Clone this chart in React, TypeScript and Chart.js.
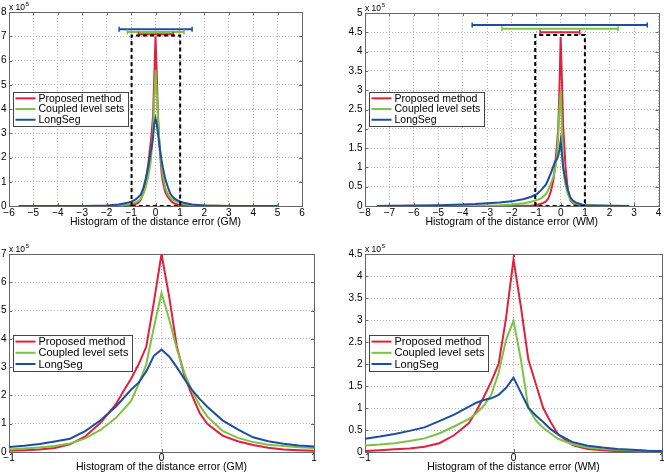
import React, { useEffect, useRef } from "react";
import { Chart, registerables } from "chart.js";

Chart.register(...registerables);

const FONT = "'Liberation Sans', Arial, Helvetica, sans-serif";
const RED = "#e0203c";
const GREEN = "#7dc242";
const BLUE = "#1d4f9c";
const FRAME = "#666666";
const GRID = "#b4b4b4";

const SERIES_NAMES = ["Proposed method", "Coupled level sets", "LongSeg"];
const SERIES_COLORS = [RED, GREEN, BLUE];

// ---------- GM (grey matter) histogram, values in units of 10^5 ----------
const GM_X = [-5.6, -5, -4, -3, -2.5, -2, -1.5, -1.2, -1, -0.9, -0.8, -0.7, -0.6, -0.5, -0.4, -0.3, -0.25, -0.2, -0.15, -0.1, -0.05, 0, 0.05, 0.1, 0.15, 0.2, 0.25, 0.3, 0.4, 0.5, 0.6, 0.7, 0.8, 0.9, 1, 1.2, 1.5, 2, 2.5, 3, 4, 5];
const GM_PROPOSED = [0, 0, 0, 0, 0, 0.005, 0.01, 0.02, 0.04, 0.06, 0.09, 0.14, 0.27, 0.55, 1.03, 1.68, 2.15, 2.58, 3.1, 3.72, 5.3, 7.0, 5.5, 3.75, 2.7, 2.0, 1.38, 1.0, 0.58, 0.38, 0.25, 0.15, 0.09, 0.06, 0.04, 0.02, 0.01, 0.005, 0, 0, 0, 0];
const GM_COUPLED = [0, 0, 0, 0, 0.005, 0.01, 0.03, 0.06, 0.09, 0.12, 0.16, 0.21, 0.3, 0.48, 0.78, 1.2, 1.5, 1.8, 2.4, 3.1, 4.4, 5.62, 4.7, 3.65, 2.8, 2.15, 1.65, 1.25, 0.75, 0.5, 0.35, 0.26, 0.21, 0.17, 0.14, 0.08, 0.04, 0.02, 0.01, 0.005, 0, 0];
const GM_LONGSEG = [0, 0, 0, 0.005, 0.01, 0.02, 0.06, 0.12, 0.18, 0.22, 0.28, 0.37, 0.47, 0.74, 1.12, 1.6, 1.9, 2.2, 2.45, 2.85, 3.4, 3.62, 3.38, 3.0, 2.58, 2.2, 1.88, 1.6, 1.12, 0.8, 0.52, 0.38, 0.29, 0.23, 0.19, 0.12, 0.06, 0.02, 0.01, 0.005, 0, 0];
// error bars: [level, from, to]
const GM_BAR_PROPOSED = [7.08, -0.7, 0.73];
const GM_BAR_COUPLED = [7.18, -1.15, 1.17];
const GM_BAR_LONGSEG = [7.29, -1.49, 1.5];
const GM_BOX = [-0.98, 1.01, 7.03];

// ---------- WM (white matter) histogram, values in units of 10^5 ----------
const WM_X = [-7.5, -7, -6, -5, -4, -3.5, -3, -2.5, -2, -1.5, -1.2, -1, -0.9, -0.8, -0.7, -0.6, -0.5, -0.4, -0.3, -0.25, -0.2, -0.15, -0.1, -0.05, 0, 0.05, 0.1, 0.15, 0.2, 0.25, 0.3, 0.4, 0.5, 0.6, 0.7, 0.8, 0.9, 1, 1.5, 2, 2.8];
const WM_PROPOSED = [0, 0, 0, 0, 0, 0, 0, 0.003, 0.005, 0.008, 0.012, 0.02, 0.04, 0.06, 0.08, 0.12, 0.2, 0.38, 0.66, 0.93, 1.25, 1.6, 2.0, 3.05, 4.38, 3.3, 2.1, 1.55, 1.0, 0.68, 0.4, 0.15, 0.07, 0.04, 0.02, 0.015, 0.01, 0.005, 0, 0, 0];
const WM_COUPLED = [0, 0, 0, 0, 0.003, 0.006, 0.01, 0.02, 0.04, 0.07, 0.11, 0.15, 0.17, 0.2, 0.25, 0.31, 0.42, 0.58, 0.75, 0.88, 1.05, 1.3, 1.8, 2.55, 2.98, 2.1, 1.0, 0.72, 0.55, 0.42, 0.3, 0.17, 0.1, 0.07, 0.05, 0.04, 0.03, 0.025, 0.01, 0.005, 0];
const WM_LONGSEG = [0, 0.005, 0.01, 0.02, 0.04, 0.05, 0.07, 0.09, 0.12, 0.18, 0.24, 0.3, 0.35, 0.41, 0.48, 0.56, 0.7, 0.85, 1.03, 1.12, 1.18, 1.22, 1.3, 1.46, 1.69, 1.35, 1.01, 0.83, 0.68, 0.52, 0.4, 0.22, 0.14, 0.1, 0.07, 0.05, 0.03, 0.02, 0.01, 0.005, 0];
const WM_BAR_PROPOSED = [4.5, -0.84, 0.78];
const WM_BAR_COUPLED = [4.59, -2.4, 2.35];
const WM_BAR_LONGSEG = [4.69, -3.62, 3.54];
const WM_BOX = [-1.04, 0.99, 4.43];

// ---------- tick labels ----------
const GM_X_TICKS = [-6, -5, -4, -3, -2, -1, 0, 1, 2, 3, 4, 5, 6];
const GM_Y_TICKS = [0, 1, 2, 3, 4, 5, 6, 7, 8];
const WM_X_TICKS = [-8, -7, -6, -5, -4, -3, -2, -1, 0, 1, 2, 3, 4];
const WM_Y_TICKS = [0, 0.5, 1, 1.5, 2, 2.5, 3, 3.5, 4, 4.5, 5];
const ZOOM_X_TICKS = [-1, 0, 1];
const GM_ZOOM_Y_TICKS = [0, 1, 2, 3, 4, 5, 6, 7];
const WM_ZOOM_Y_TICKS = [0, 0.5, 1, 1.5, 2, 2.5, 3, 3.5, 4, 4.5];

const GM_TITLE = "Histogram of the distance error (GM)";
const WM_TITLE = "Histogram of the distance error (WM)";

type Panel = {
  left: number;
  top: number;
  w: number;
  h: number;
  area: { l: number; t: number; r: number; b: number };
  xs: number[];
  ys: number[][];
  xMin: number;
  xMax: number;
  yMax: number;
  xTicks: number[];
  yTicks: number[];
  title: string;
  titlePad: number;
  xTickPad: number;
  bars?: number[][];
  box?: number[];
  legendSize: number;
  legendRow: number;
};

const PANELS: Panel[] = [
  {
    left: 0, top: 0, w: 332, h: 237,
    area: { l: 9, t: 12, r: 302, b: 206 },
    xs: GM_X, ys: [GM_PROPOSED, GM_COUPLED, GM_LONGSEG],
    xMin: -6, xMax: 6, yMax: 8, xTicks: GM_X_TICKS, yTicks: GM_Y_TICKS,
    title: GM_TITLE, titlePad: 9, xTickPad: 1.5,
    bars: [GM_BAR_PROPOSED, GM_BAR_COUPLED, GM_BAR_LONGSEG], box: GM_BOX,
    legendSize: 10.5, legendRow: 10.7,
  },
  {
    left: 332, top: 0, w: 332, h: 237,
    area: { l: 33, t: 13, r: 328, b: 206 },
    xs: WM_X, ys: [WM_PROPOSED, WM_COUPLED, WM_LONGSEG],
    xMin: -8, xMax: 4, yMax: 5, xTicks: WM_X_TICKS, yTicks: WM_Y_TICKS,
    title: WM_TITLE, titlePad: 9, xTickPad: 1.5,
    bars: [WM_BAR_PROPOSED, WM_BAR_COUPLED, WM_BAR_LONGSEG], box: WM_BOX,
    legendSize: 10.5, legendRow: 10.7,
  },
  {
    left: 0, top: 237, w: 332, h: 237,
    area: { l: 9, t: 17, r: 314, b: 215 },
    xs: GM_X, ys: [GM_PROPOSED, GM_COUPLED, GM_LONGSEG],
    xMin: -1, xMax: 1, yMax: 7, xTicks: ZOOM_X_TICKS, yTicks: GM_ZOOM_Y_TICKS,
    title: GM_TITLE, titlePad: 0.7, xTickPad: 0.5,
    legendSize: 11, legendRow: 11.2,
  },
  {
    left: 332, top: 237, w: 332, h: 237,
    area: { l: 33, t: 17, r: 330, b: 215 },
    xs: WM_X, ys: [WM_PROPOSED, WM_COUPLED, WM_LONGSEG],
    xMin: -1, xMax: 1, yMax: 4.5, xTicks: ZOOM_X_TICKS, yTicks: WM_ZOOM_Y_TICKS,
    title: WM_TITLE, titlePad: 0.7, xTickPad: 0.5,
    legendSize: 11, legendRow: 11.2,
  },
];

function fmt(v: number): string {
  const s = String(Math.abs(Math.round(v * 100) / 100));
  return v < 0 ? "\u2212" + s : s;
}

const decorPlugin = {
  id: "decor",
  beforeDatasetsDraw(chart: any) {
    const { ctx, chartArea: a } = chart;
    const sx = chart.scales.x;
    const sy = chart.scales.y;
    ctx.save();
    ctx.strokeStyle = FRAME;
    ctx.lineWidth = 1;
    ctx.beginPath();
    for (const t of sx.ticks) {
      const px = Math.round(sx.getPixelForValue(t.value)) + 0.5;
      ctx.moveTo(px, a.bottom);
      ctx.lineTo(px, a.bottom - 3);
      ctx.moveTo(px, a.top);
      ctx.lineTo(px, a.top + 3);
    }
    for (const t of sy.ticks) {
      const py = Math.round(sy.getPixelForValue(t.value)) + 0.5;
      ctx.moveTo(a.left, py);
      ctx.lineTo(a.left + 3, py);
      ctx.moveTo(a.right, py);
      ctx.lineTo(a.right - 3, py);
    }
    ctx.stroke();
    ctx.strokeRect(
      Math.round(a.left) + 0.5,
      Math.round(a.top) + 0.5,
      Math.round(a.right - a.left),
      Math.round(a.bottom - a.top)
    );
    ctx.restore();
  },
  afterDraw(chart: any, _args: any, opts: any) {
    const { ctx, chartArea: a } = chart;
    ctx.save();
    // exponent label
    ctx.fillStyle = "#000";
    ctx.textAlign = "left";
    ctx.textBaseline = "alphabetic";
    ctx.font = `8.5px ${FONT}`;
    ctx.fillText("x 10", a.left, a.top - 2.5);
    const ew = ctx.measureText("x 10").width;
    ctx.font = `6px ${FONT}`;
    ctx.fillText("5", a.left + ew + 0.8, a.top - 6.5);

    // legend
    const size = opts.legendSize as number;
    const row = opts.legendRow as number;
    ctx.font = `${size}px ${FONT}`;
    let tw = 0;
    for (const n of SERIES_NAMES) tw = Math.max(tw, ctx.measureText(n).width);
    const w = 25.5 + tw + 3.5;
    const h = row * 3 + 2;
    const x0 = Math.round(a.left + 3.5);
    const y0 = Math.round((a.top + a.bottom) / 2 - h / 2);
    ctx.fillStyle = "#ffffff";
    ctx.fillRect(x0, y0, w, h);
    ctx.strokeStyle = "#444";
    ctx.lineWidth = 1;
    ctx.strokeRect(x0 + 0.5, y0 + 0.5, Math.round(w), Math.round(h));
    ctx.textBaseline = "middle";
    SERIES_NAMES.forEach((n, i) => {
      const cy = y0 + 1 + row / 2 + i * row;
      ctx.strokeStyle = SERIES_COLORS[i];
      ctx.lineWidth = 2;
      ctx.beginPath();
      ctx.moveTo(x0 + 2.5, cy);
      ctx.lineTo(x0 + 22.5, cy);
      ctx.stroke();
      ctx.fillStyle = "#000";
      ctx.fillText(n, x0 + 25.5, cy + 0.5);
    });
    ctx.restore();
  },
};

function PanelChart({ p }: { p: Panel }) {
  const ref = useRef<HTMLCanvasElement>(null);
  useEffect(() => {
    const canvas = ref.current;
    if (!canvas) return;
    const datasets: any[] = [];
    if (p.box) {
      const [l, r, hgt] = p.box;
      datasets.push({
        label: "box",
        data: [
          { x: l, y: 0 },
          { x: l, y: hgt },
          { x: r, y: hgt },
          { x: r, y: 0 },
          { x: l, y: 0 },
        ],
        borderColor: "#000",
        borderWidth: 2,
        borderDash: [4, 3],
        pointRadius: 0,
        fill: false,
        order: 0,
      });
    }
    if (p.bars) {
      p.bars.forEach((b, i) => {
        datasets.push({
          label: "bar" + i,
          data: [
            { x: b[1], y: b[0] },
            { x: b[2], y: b[0] },
          ],
          borderColor: SERIES_COLORS[i],
          borderWidth: 2,
          pointStyle: "line",
          rotation: 90,
          pointRadius: 2.5,
          pointBorderWidth: 1.5,
          pointBorderColor: SERIES_COLORS[i],
          fill: false,
          order: 0,
        });
      });
    }
    p.ys.forEach((ys, i) => {
      datasets.push({
        label: SERIES_NAMES[i],
        data: p.xs.map((x, k) => ({ x, y: ys[k] })),
        borderColor: SERIES_COLORS[i],
        borderWidth: 2,
        pointRadius: 0,
        fill: false,
        tension: 0,
        order: 3 - i,
      });
    });

    const a = p.area;
    const tickFont = { family: FONT, size: 10 };
    const chart = new Chart(canvas, {
      type: "line",
      data: { datasets },
      options: {
        animation: false,
        responsive: false,
        maintainAspectRatio: false,
        events: [],
        layout: { padding: { left: 0, top: a.t, right: p.w - a.r, bottom: 0 } },
        plugins: {
          legend: { display: false },
          tooltip: { enabled: false },
          decor: { legendSize: p.legendSize, legendRow: p.legendRow },
        } as any,
        scales: {
          x: {
            type: "linear",
            min: p.xMin,
            max: p.xMax,
            afterBuildTicks: (s: any) => {
              s.ticks = p.xTicks.map((v) => ({ value: v }));
            },
            afterFit: (s: any) => {
              s.height = p.h - a.b;
              s.paddingLeft = 0;
              s.paddingRight = 0;
            },
            grid: { color: GRID, lineWidth: 1, drawTicks: false },
            border: { display: false, dash: [1, 2] },
            ticks: {
              autoSkip: false,
              maxRotation: 0,
              padding: p.xTickPad,
              color: "#000",
              font: tickFont,
              callback: (v: any) => fmt(Number(v)),
            },
            title: {
              display: true,
              text: p.title,
              color: "#000",
              font: { family: FONT, size: 10.5 },
              padding: { top: 0, bottom: p.titlePad },
            },
          },
          y: {
            type: "linear",
            min: 0,
            max: p.yMax,
            afterBuildTicks: (s: any) => {
              s.ticks = p.yTicks.map((v) => ({ value: v }));
            },
            afterFit: (s: any) => {
              s.width = a.l;
              s.paddingTop = 0;
              s.paddingBottom = 0;
            },
            grid: { color: GRID, lineWidth: 1, drawTicks: false },
            border: { display: false, dash: [1, 2] },
            ticks: {
              autoSkip: false,
              padding: 2.5,
              color: "#000",
              font: tickFont,
              callback: (v: any) => fmt(Number(v)),
            },
          },
        },
      } as any,
      plugins: [decorPlugin],
    });
    return () => chart.destroy();
  }, [p]);
  return (
    <canvas
      ref={ref}
      width={p.w}
      height={p.h}
      style={{ position: "absolute", left: p.left, top: p.top, width: p.w, height: p.h }}
    />
  );
}

export default function App() {
  return (
    <div
      style={{
        position: "fixed",
        left: 0,
        top: 0,
        width: 664,
        height: 474,
        background: "#ffffff",
        overflow: "hidden",
      }}
    >
      {PANELS.map((p, i) => (
        <PanelChart key={i} p={p} />
      ))}
    </div>
  );
}
